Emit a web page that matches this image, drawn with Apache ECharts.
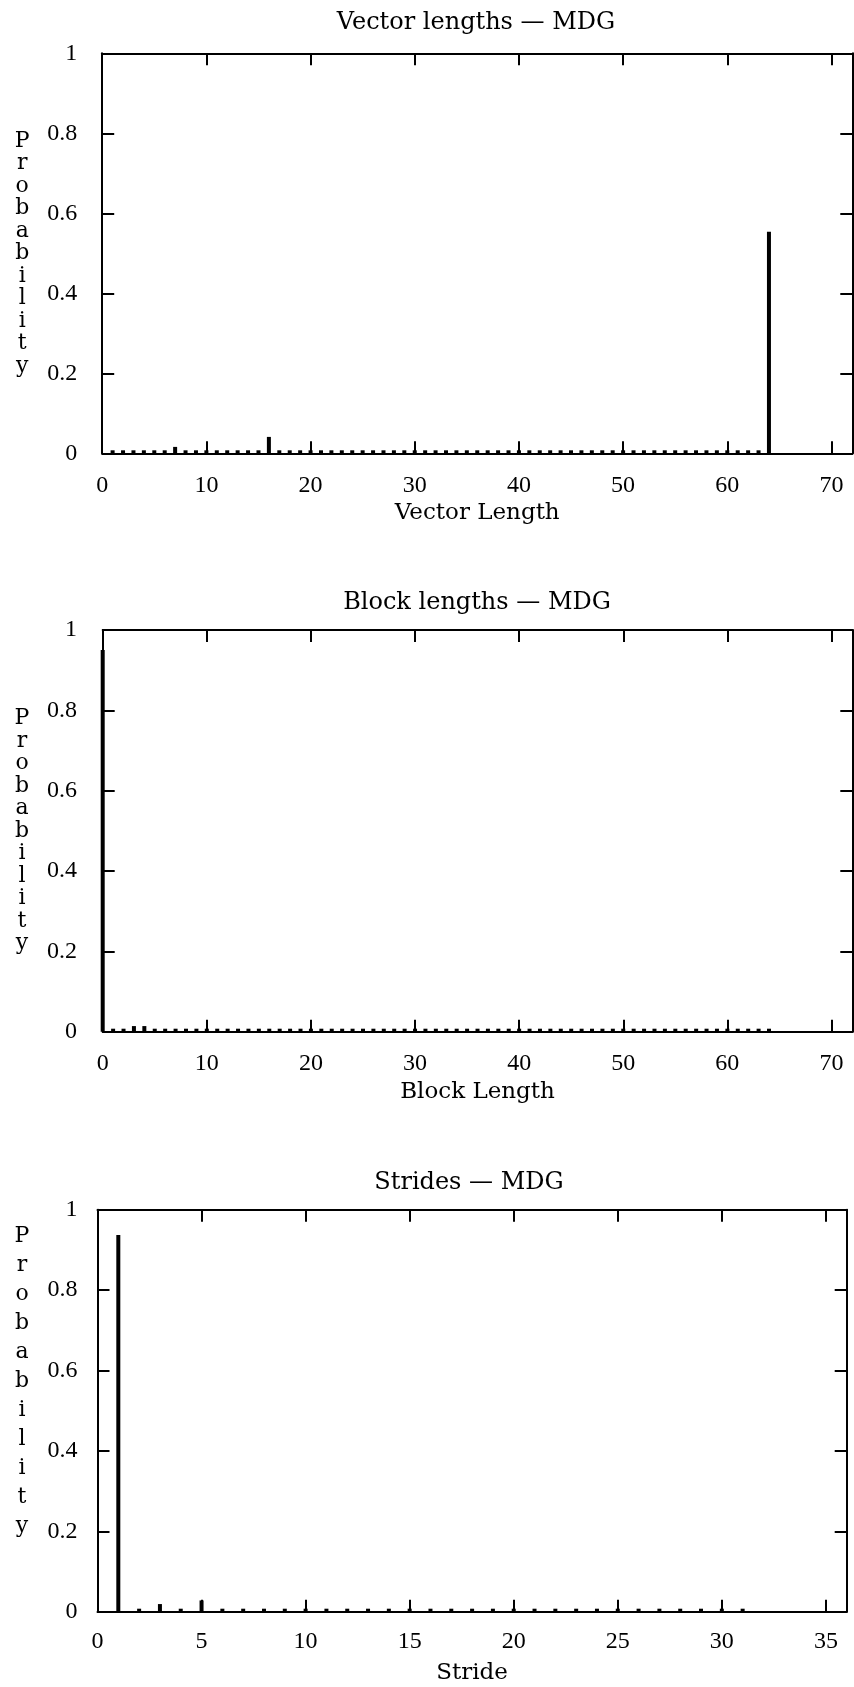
<!DOCTYPE html>
<html lang="en">
<head>
    <meta charset="UTF-8">
    <title>MDG</title>
    <style>
        html, body { margin: 0; padding: 0; background: #fff; }
        #main { width: 854px; height: 1687px; }
    </style>
</head>
<body>
<div id="main"></div>
<script src="https://cdn.jsdelivr.net/npm/echarts@6/dist/echarts.min.js"></script>
<script>
    // 标题
    let titles = ['Vector lengths \u2014 MDG', 'Block lengths \u2014 MDG', 'Strides \u2014 MDG'];
    let xNames = ['Vector Length', 'Block Length', 'Stride'];
    let yName = 'Probability';

    // 向量长度: 1..63 几乎为 0, 7/16/22 有小值, 64 为主峰
    let vecX = [];
    for (let i = 1; i <= 64; i++) vecX.push(i);
    let vecY = [0.002, 0.002, 0.002, 0.002, 0.002, 0.002, 0.016, 0.002, 0.002, 0.002,
        0.002, 0.002, 0.002, 0.002, 0.002, 0.041, 0.002, 0.002, 0.002, 0.002,
        0.002, 0.006, 0.002, 0.002, 0.002, 0.002, 0.002, 0.002, 0.002, 0.002,
        0.002, 0.002, 0.002, 0.002, 0.002, 0.002, 0.002, 0.002, 0.002, 0.002,
        0.002, 0.002, 0.002, 0.002, 0.002, 0.002, 0.002, 0.002, 0.002, 0.002,
        0.002, 0.002, 0.002, 0.002, 0.002, 0.002, 0.002, 0.002, 0.002, 0.002,
        0.002, 0.002, 0.002, 0.554];

    // 块长度: 0..64
    let blkX = [];
    for (let i = 0; i <= 64; i++) blkX.push(i);
    let blkY = [0.950, 0.002, 0.002, 0.014, 0.014, 0.002, 0.002, 0.002, 0.002, 0.002,
        0.002, 0.002, 0.002, 0.002, 0.002, 0.002, 0.002, 0.002, 0.002, 0.002,
        0.002, 0.002, 0.002, 0.002, 0.002, 0.002, 0.002, 0.002, 0.002, 0.002,
        0.002, 0.002, 0.002, 0.002, 0.002, 0.002, 0.002, 0.002, 0.002, 0.002,
        0.002, 0.002, 0.002, 0.002, 0.002, 0.002, 0.002, 0.002, 0.002, 0.002,
        0.002, 0.002, 0.002, 0.002, 0.002, 0.002, 0.002, 0.002, 0.002, 0.002,
        0.002, 0.002, 0.002, 0.002, 0.002];

    // 步长: 1..31
    let strX = [];
    for (let i = 1; i <= 31; i++) strX.push(i);
    let strY = [0.937, 0.002, 0.019, 0.002, 0.028, 0.002, 0.002, 0.002, 0.002, 0.002,
        0.002, 0.002, 0.002, 0.002, 0.002, 0.002, 0.002, 0.002, 0.002, 0.002,
        0.002, 0.002, 0.002, 0.002, 0.002, 0.002, 0.002, 0.002, 0.002, 0.002,
        0.002];

    let xMax = [72, 72, 36];
    let xStep = [10, 10, 5];

    let grids = [
        {left: 102.2, right: 1.7, top: 53.3, height: 400},
        {left: 102.7, right: 1.7, top: 630, height: 401.7},
        {left: 97.5, right: 7.3, top: 1209.7, height: 402}
    ];
    let titleCenter = [[476, 24], [477, 604], [469, 1184]];
    let yLabelMargin = [25, 25.7, 20];
    let yNameGap = [80, 80.7, 75.5];
    let yNameLine = [22.5, 22.5, 29];
    let yNameTail = ['', '', '\n\n'];
    let xLabelMargin = [20, 20, 18];
    let xNameGap = [60, 60, 61];

    let pairs = [
        vecX.map((x, i) => [x, vecY[i]]),
        blkX.map((x, i) => [x, blkY[i]]),
        strX.map((x, i) => [x, strY[i]])
    ];

    let serif = "'DejaVu Serif', serif";
    let digits = "'Liberation Serif', serif";
    let line = {show: true, onZero: false, lineStyle: {color: '#000', width: 2}};
    let tick = {show: true, inside: true, length: 12, lineStyle: {color: '#000', width: 2}};

    let option = {
        backgroundColor: '#fff',
        animation: false,
        title: [],
        grid: [],
        xAxis: [],
        yAxis: [],
        series: []
    };

    for (let k = 0; k < 3; k++) {
        option.title.push({
            text: titles[k],
            left: titleCenter[k][0],
            top: titleCenter[k][1] - 13,
            textAlign: 'center',
            padding: 0,
            textStyle: {fontFamily: serif, fontSize: 24, fontWeight: 'normal', color: '#000'}
        });
        option.grid.push(grids[k]);
        // 下方 x 轴
        option.xAxis.push({
            type: 'value', gridIndex: k, position: 'bottom',
            min: 0, max: xMax[k], interval: xStep[k],
            axisLine: line, axisTick: tick, splitLine: {show: false},
            axisLabel: {
                margin: xLabelMargin[k], fontFamily: digits, fontSize: 24, color: '#000',
                showMaxLabel: false
            },
            name: xNames[k], nameLocation: 'middle', nameGap: xNameGap[k],
            nameTextStyle: {fontFamily: serif, fontSize: 23, color: '#000', verticalAlign: 'middle'}
        });
        // 上方 x 轴 (镜像刻度)
        option.xAxis.push({
            type: 'value', gridIndex: k, position: 'top',
            min: 0, max: xMax[k], interval: xStep[k],
            axisLine: line, axisTick: tick, splitLine: {show: false},
            axisLabel: {show: false}
        });
        // 左侧 y 轴
        option.yAxis.push({
            type: 'value', gridIndex: k, position: 'left',
            min: 0, max: 1, interval: 0.2,
            axisLine: line, axisTick: tick, splitLine: {show: false},
            axisLabel: {margin: yLabelMargin[k], fontFamily: digits, fontSize: 24, color: '#000'},
            name: yName.split('').join('\n') + yNameTail[k], nameLocation: 'middle', nameRotate: 0,
            nameGap: yNameGap[k],
            nameTextStyle: {
                fontFamily: serif, fontSize: 22, color: '#000', align: 'center',
                verticalAlign: 'middle', lineHeight: yNameLine[k]
            }
        });
        // 右侧 y 轴 (镜像刻度)
        option.yAxis.push({
            type: 'value', gridIndex: k, position: 'right',
            min: 0, max: 1, interval: 0.2,
            axisLine: line, axisTick: tick, splitLine: {show: false},
            axisLabel: {show: false}
        });
        option.series.push({
            type: 'bar',
            xAxisIndex: k * 2,
            yAxisIndex: k * 2,
            data: pairs[k],
            barWidth: 4,
            barMinHeight: 3,
            clip: false,
            itemStyle: {color: '#000'},
            z: 5
        });
    }

    let myChart = echarts.init(document.getElementById('main'));
    myChart.setOption(option);
    window.addEventListener('resize', function () {
        myChart.resize();
    });
</script>
</body>
</html>
